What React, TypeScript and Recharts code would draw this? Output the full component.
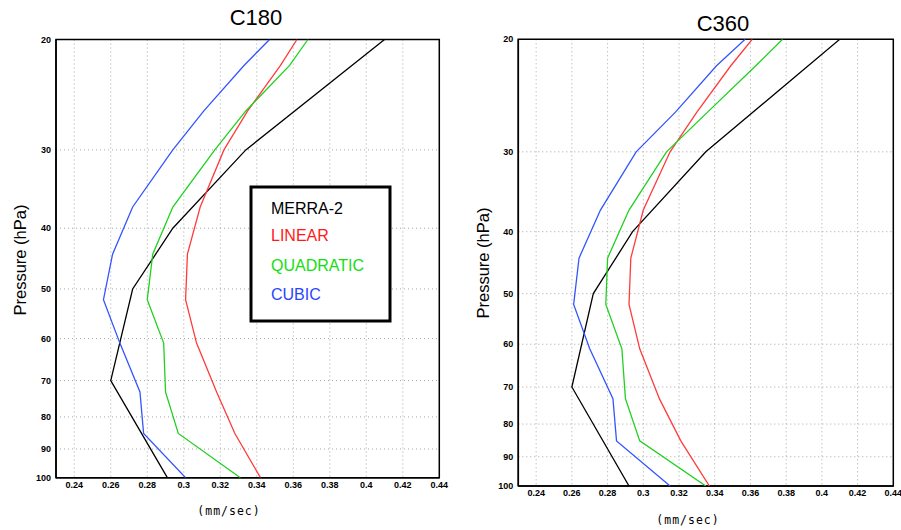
import { ScatterChart, Scatter, XAxis, YAxis, CartesianGrid, ReferenceArea } from 'recharts';

// pressure levels (hPa)
const pressureStd = [20, 30, 40, 50, 70, 100];
const pressureModel = [20, 22, 26, 30, 37, 44, 52, 61, 73, 85, 100];

// C180 profiles (mm/sec)
const merra180 = [0.41, 0.334, 0.294, 0.272, 0.26, 0.291];
const linear180 = [0.362, 0.353, 0.335, 0.322, 0.309, 0.302, 0.301, 0.307, 0.318, 0.328, 0.342];
const quad180 = [0.368, 0.358, 0.334, 0.317, 0.294, 0.283, 0.28, 0.289, 0.29, 0.297, 0.331];
const cubic180 = [0.347, 0.333, 0.311, 0.294, 0.272, 0.261, 0.256, 0.265, 0.276, 0.278, 0.301];

// C360 profiles (mm/sec)
const merra360 = [0.41, 0.335, 0.294, 0.272, 0.26, 0.292];
const linear360 = [0.361, 0.349, 0.33, 0.315, 0.3, 0.293, 0.292, 0.298, 0.309, 0.321, 0.337];
const quad360 = [0.378, 0.363, 0.336, 0.313, 0.292, 0.28, 0.279, 0.288, 0.29, 0.298, 0.335];
const cubic360 = [0.357, 0.341, 0.318, 0.296, 0.276, 0.264, 0.261, 0.27, 0.283, 0.285, 0.315];

const xTicks = [0.24, 0.26, 0.28, 0.3, 0.32, 0.34, 0.36, 0.38, 0.4, 0.42, 0.44];
const yTicks = [20, 30, 40, 50, 60, 70, 80, 90, 100];

const legendItems = ['MERRA-2', 'LINEAR', 'QUADRATIC', 'CUBIC'];
const lineColors = ['#000000', '#ff3b3b', '#1fd11f', '#3355ff'];
const textColors = ['#000000', '#ff1a1a', '#12e012', '#2846ff'];

const toPoints = (levels: number[], vals: number[]) => levels.map((p, i) => ({ p, v: vals[i] }));

const tickStyle = { fontFamily: 'Liberation Sans, Arial, sans-serif', fontSize: 9, fontWeight: 'bold', fill: '#000' };

type PanelProps = {
    left: number;
    width: number;
    margin: { top: number; right: number; left: number; bottom: number };
    yWidth: number;
    series: number[][];
};

const Panel = ({ left, width, margin, yWidth, series }: PanelProps) => {
    const sets = [
        toPoints(pressureStd, series[0]),
        toPoints(pressureModel, series[1]),
        toPoints(pressureModel, series[2]),
        toPoints(pressureModel, series[3]),
    ];
    return (
        <div style={{ position: 'absolute', left, top: 0 }}>
            <ScatterChart width={width} height={530} margin={margin}>
                <CartesianGrid strokeDasharray="1 3" stroke="#a5a5a5" />
                <XAxis
                    type="number"
                    dataKey="v"
                    domain={[0.23, 0.44]}
                    ticks={xTicks}
                    allowDataOverflow
                    tickFormatter={(v: number) => String(+v.toFixed(2))}
                    tick={tickStyle}
                    tickLine={false}
                    tickSize={2}
                    tickMargin={2}
                    height={30}
                    axisLine={{ stroke: '#000', strokeWidth: 1.5 }}
                    interval={0}
                />
                <YAxis
                    type="number"
                    dataKey="p"
                    scale="log"
                    domain={[20, 100]}
                    ticks={yTicks}
                    reversed
                    allowDataOverflow
                    tick={tickStyle}
                    tickLine={false}
                    tickSize={3}
                    tickMargin={2}
                    width={yWidth}
                    axisLine={{ stroke: '#000', strokeWidth: 1.5 }}
                    interval={0}
                />
                <ReferenceArea x1={0.23} x2={0.44} y1={20} y2={100} fill="none" stroke="#000" strokeWidth={1.5} />
                {sets.map((d, i) => (
                    <Scatter
                        key={i}
                        data={d}
                        line={{ stroke: lineColors[i], strokeWidth: 1.3 }}
                        lineType="joint"
                        shape={() => <g />}
                        isAnimationActive={false}
                    />
                ))}
            </ScatterChart>
        </div>
    );
};

export default function App() {
    const font = 'Liberation Sans, Arial, sans-serif';
    const mono = 'DejaVu Sans Mono, monospace';
    return (
        <div style={{ position: 'absolute', left: 0, top: 0, width: 901, height: 530, background: '#fff', overflow: 'hidden' }}>
            <Panel
                left={0}
                width={450}
                margin={{ top: 39.5, right: 10.7, left: 0, bottom: 22.3 }}
                yWidth={56}
                series={[merra180, linear180, quad180, cubic180]}
            />
            <Panel
                left={460}
                width={441}
                margin={{ top: 39.3, right: 7.7, left: 0, bottom: 14 }}
                yWidth={58.3}
                series={[merra360, linear360, quad360, cubic360]}
            />
            <svg width={901} height={530} style={{ position: 'absolute', left: 0, top: 0, pointerEvents: 'none' }}>
                <text x={256} y={25} textAnchor="middle" fontFamily={font} fontSize={22}>C180</text>
                <text x={723} y={31} textAnchor="middle" fontFamily={font} fontSize={22}>C360</text>
                <text transform="translate(26,260) rotate(-90)" textAnchor="middle" fontFamily={font} fontSize={16.5}>Pressure (hPa)</text>
                <text transform="translate(489,263) rotate(-90)" textAnchor="middle" fontFamily={font} fontSize={16.5}>Pressure (hPa)</text>
                <text x={229} y={515} textAnchor="middle" fontFamily={mono} fontSize={11.5} letterSpacing={1}>(mm/sec)</text>
                <text x={688} y={524} textAnchor="middle" fontFamily={mono} fontSize={11.5} letterSpacing={1}>(mm/sec)</text>
                <rect x={251} y={187} width={139} height={134} fill="#fff" stroke="#000" strokeWidth={3} />
                {legendItems.map((t, i) => (
                    <text key={t} x={271} y={[214, 241, 271, 300][i]} fontFamily={font} fontSize={16} fill={textColors[i]}>
                        {t}
                    </text>
                ))}
            </svg>
        </div>
    );
}
